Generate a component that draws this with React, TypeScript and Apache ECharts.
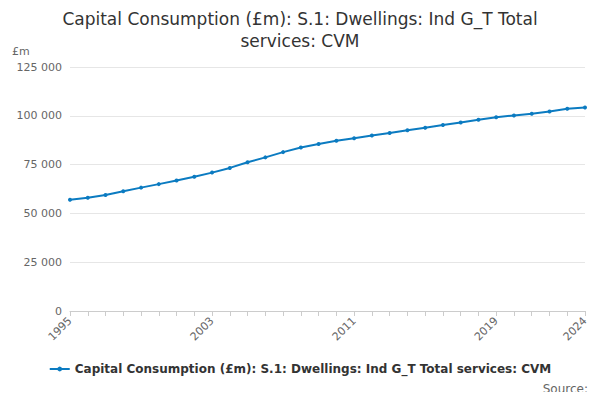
import { useEffect, useRef } from 'react';
import * as echarts from 'echarts';

const years = Array.from({ length: 30 }, (_, i) => String(1995 + i));
const values = [
  57000, 58000, 59400, 61300, 63200, 65000, 66900, 68800, 70900, 73300,
  76200, 78700, 81400, 83800, 85500, 87200, 88500, 89900, 91200, 92600,
  93900, 95300, 96600, 98000, 99300, 100200, 101000, 102200, 103600, 104300,
];
const shownLabels = ['1995', '2003', '2011', '2019', '2024'];
const seriesName = 'Capital Consumption (£m): S.1: Dwellings: Ind G_T Total services: CVM';

export default function App() {
  const ref = useRef<HTMLDivElement>(null);

  useEffect(() => {
    if (!ref.current) return;
    const chart = echarts.init(ref.current, undefined, { renderer: 'svg' });
    const font = 'DejaVu Sans, sans-serif';
    chart.setOption({
      animation: false,
      textStyle: { fontFamily: font },
      title: {
        text: 'Capital Consumption (£m): S.1: Dwellings: Ind G_T Total\nservices: CVM',
        left: 'center',
        top: -5,
        textStyle: { fontSize: 17, fontWeight: 'normal', color: '#333', lineHeight: 22, fontFamily: font },
      },
      graphic: [
        { type: 'text', left: 4, top: 38, style: { text: '£m', fontSize: 11, fill: '#666', fontFamily: font } },
        { type: 'text', right: 4, top: 375, style: { text: 'Source:', fontSize: 12, fill: '#666', fontFamily: font } },
      ],
      legend: {
        bottom: 12,
        left: 'center',
        itemWidth: 20,
        itemHeight: 6,
        textStyle: { fontSize: 12, fontWeight: 'bold', color: '#333', fontFamily: font },
      },
      grid: { left: 62, right: 7, top: 59, bottom: 81 },
      xAxis: {
        type: 'category',
        data: years,
        boundaryGap: false,
        axisLine: { lineStyle: { color: '#ccc' } },
        axisTick: { show: true, interval: 0, lineStyle: { color: '#ccc' } },
        axisLabel: {
          interval: (_: number, v: string) => shownLabels.includes(v),
          rotate: 45,
          color: '#666',
          fontSize: 11,
        },
      },
      yAxis: {
        type: 'value',
        min: 0,
        max: 125000,
        interval: 25000,
        axisLabel: {
          color: '#666',
          fontSize: 11,
          formatter: (v: number) => (v >= 1000 ? `${Math.floor(v / 1000)} ${String(v % 1000).padStart(3, '0')}` : String(v)),
        },
        splitLine: { lineStyle: { color: '#e6e6e6' } },
      },
      series: [
        {
          name: seriesName,
          type: 'line',
          data: values,
          color: '#0b7bc1',
          symbol: 'circle',
          symbolSize: 4,
          lineStyle: { width: 2 },
        },
      ],
    });
    return () => chart.dispose();
  }, []);

  return <div ref={ref} style={{ width: 584, height: 384 }} />;
}
